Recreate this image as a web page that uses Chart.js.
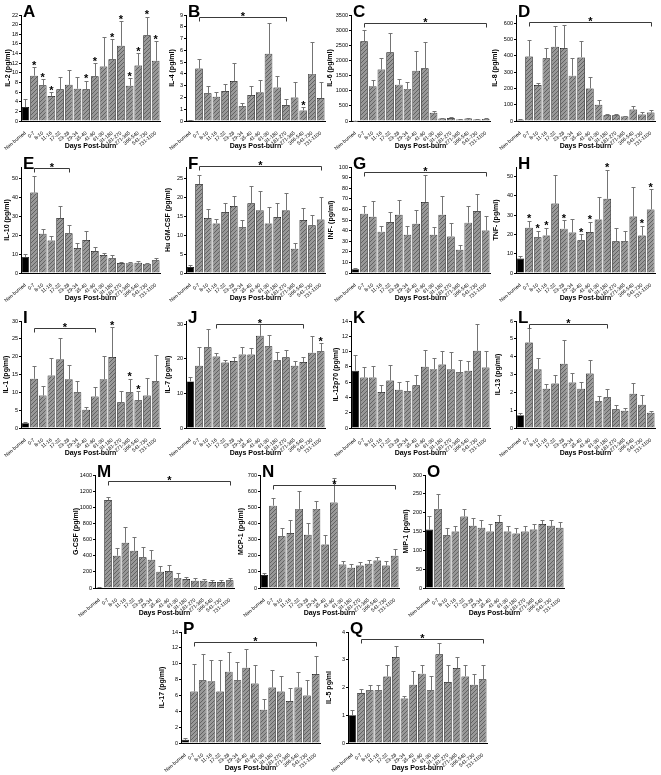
<!DOCTYPE html>
<html>
<head>
<meta charset="utf-8">
<script src="https://cdn.jsdelivr.net/npm/chart.js@4"></script>
<style>
html,body{margin:0;padding:0;background:#fff;}
#fig{position:relative;width:661px;height:775px;overflow:hidden;background:#fff;}
.pn{position:absolute;}
</style>
</head>
<body>
<div id="fig"></div>
<script>
'use strict';

/* ── categories (days post-burn) ── */
const categories=['Non-burned','0-7','8-10','11-16','17-22','23-28','29-34','35-40','41-60','61-90','91-180','181-270','271-365','366-540','541-730','731-1100'];

/* ── values: mean + top of error bar ── */
const il2Mean=[2.9,9.4,7.4,5.2,6.6,7.5,6.7,6.6,9.3,11.3,12.8,15.6,7.3,11.5,17.8,12.5];
const il2Up  =[4.5,11.2,8.7,6.0,9.1,10.6,9.2,8.4,12.0,17.4,17.0,20.7,8.9,14.1,21.6,16.6];
const il4Mean=[0.08,4.45,2.35,2.05,2.55,3.4,1.25,2.2,2.45,5.7,2.85,1.35,2.0,0.9,4.0,1.95];
const il4Up  =[0.12,5.25,2.95,2.5,3.1,4.9,1.55,2.95,3.45,8.3,3.85,1.9,3.3,1.15,6.7,3.35];
const il6Mean=[8,2630,1150,1700,2270,1200,1060,1660,1740,270,80,100,50,80,50,70];
const il6Up  =[12,3020,1360,2070,2920,1400,1300,2310,2610,330,95,125,60,95,62,90];
const il8Mean=[8,395,220,385,455,448,278,390,200,100,35,35,27,70,40,52];
const il8Up  =[12,495,235,450,580,590,385,490,270,130,40,45,30,92,55,70];
const il10Mean=[8.5,42.5,20.7,17.2,29,21,13.2,17.4,11.6,9.5,7.8,5.3,5.2,5.4,4.8,6.7];
const il10Up  =[10,51,23.5,19.3,35.5,25.5,15.6,22.4,13.6,10.6,9.5,5.7,5.8,6.3,5.2,7.8];
const gmcsfMean=[1.6,23.5,14.5,13.1,16.1,17.7,12.1,18.4,16.6,13.1,14.8,16.6,6.4,14.0,12.6,14.1];
const gmcsfUp  =[2.2,26,16.8,14.3,18.6,20.4,13.9,22.9,21.7,17.4,18.6,21.2,7.8,17.3,15.3,20.2];
const infMean=[3.5,56,53,39,48,55,36,46.5,67,36,55,34.5,22,47.5,58.5,40];
const infUp  =[5,63,68,44,58,69,44,59.5,92,43,73,47,26.5,63,75,54];
const tnfMean=[7.5,23.5,18.5,19.5,36,23,21,17,21.3,27.8,38.5,16.5,16.5,29.3,19.5,33];
const tnfUp  =[9,27,22,23.5,51,27.5,28,20,26.5,39.5,53.5,23.5,22,44.5,24.5,43.5];
const il1Mean=[1.3,13.8,9.1,14.7,19.3,13.7,10,5.1,8.8,13.7,19.9,7.2,10,7.8,9.1,13.1];
const il1Up  =[1.6,17.3,11.9,19.6,25.2,17.6,13.3,6,11.6,20.2,28.2,10.4,13.8,10.3,13.9,20.4];
const il7Mean=[13.5,18,23.4,20.7,19,19.4,21.3,21.3,26.7,23.7,19.6,20.5,18,19.1,21.8,22.2];
const il7Up  =[14.8,23.5,28.6,21.8,19.8,20.7,23.6,23.3,30,27,22,22.7,19.3,20.5,26.6,24.6];
const il12Mean=[7.5,6.6,6.6,4.7,6.2,5,4.8,5.6,8,7.7,8.3,7.7,7.3,7.5,10.1,7.9];
const il12Up  =[9.5,8,8.1,5.6,8.3,6,6.2,7,10.2,9.2,10.1,10,8.9,8.8,13.6,10.1];
const il13Mean=[0.72,4.8,3.3,2.2,2.5,3.6,2.55,2.2,3.05,1.5,1.72,1.05,0.97,1.92,1.3,0.85];
const il13Up  =[0.85,5.6,3.9,2.45,2.95,4.95,3.1,2.6,3.8,1.8,2.2,1.28,1.1,2.55,1.83,0.97];
const gcsfMean=[10,1090,400,560,460,380,350,200,210,125,110,90,90,75,75,95];
const gcsfUp  =[15,1130,500,750,630,510,470,270,285,185,140,120,115,95,95,125];
const mcp1Mean=[80,510,320,340,490,330,490,270,530,145,125,140,150,170,140,200];
const mcp1Up  =[95,560,370,420,600,400,540,330,680,170,150,160,175,195,170,240];
const mip1Mean=[155,210,140,150,190,165,160,150,175,150,145,150,155,170,165,160];
const mip1Up  =[190,250,160,165,210,185,180,170,195,165,160,165,170,180,180,175];
const il17Mean=[0.4,6.5,7.9,7.8,6.5,9,7.9,9.5,7.5,4.2,7,6.5,5.3,7,6,8.7];
const il17Up  =[0.6,10,11.2,10.5,10.5,11.5,10.2,11.8,9.8,5.5,9.2,8.5,7,9,8,11];
const il5Mean=[1,1.8,1.9,1.9,2.4,3.1,1.6,2.1,2.5,1.9,3.2,2.2,2.7,2.4,2.1,2.3];
const il5Up  =[1.2,1.95,2.1,2.1,2.8,3.5,1.7,2.6,2.8,2.4,3.6,2.8,3.1,2.8,2.5,2.8];

/* ── significance: single stars (bar index) and brackets [from,to,level] ── */
const il2Stars=[1,2,3,7,8,10,11,12,13,14,15];
const il4Stars=[13];
const tnfStars=[1,2,3,5,7,8,10,14,15];
const il1Stars=[10,12,13];
const il7Stars=[15];
const il4Bracket=[1,11,8.85];
const il6Bracket=[1,15,3250];
const il8Bracket=[1,15,605];
const il10Bracket=[1,5,55.3];
const gmcsfBracket=[1,15,28.3];
const infBracket=[1,15,95.5];
const il1Bracket=[1,8,28.1];
const il7Bracket=[3,13,30.2];
const il13Bracket=[1,10,5.85];
const gcsfBracket=[1,15,1320];
const mcp1Bracket=[1,15,640];
const il17Bracket=[1,15,12.8];
const il5Bracket=[1,15,3.75];

/* ── y axes: [max, step] ── */
const yAxes={A:[22,2],B:[9,1],C:[3500,500],D:[650,100],E:[56,10],F:[28,5],G:[100,10],H:[55,10],
  I:[30,5],J:[31,10],K:[14,2],L:[6,1],M:[1400,200],N:[700,100],O:[300,50],P:[14,1],Q:[4,1]};

/* ── panels ── */
const panels=[
  {k:'A',lab:'IL-2 (pg/ml)',mean:il2Mean,up:il2Up,stars:il2Stars},
  {k:'B',lab:'IL-4 (pg/ml)',mean:il4Mean,up:il4Up,stars:il4Stars,br:il4Bracket},
  {k:'C',lab:'IL-6 (pg/ml)',mean:il6Mean,up:il6Up,br:il6Bracket},
  {k:'D',lab:'IL-8 (pg/ml)',mean:il8Mean,up:il8Up,br:il8Bracket},
  {k:'E',lab:'IL-10 (pg/ml)',mean:il10Mean,up:il10Up,br:il10Bracket},
  {k:'F',lab:'Hu GM-CSF (pg/ml)',mean:gmcsfMean,up:gmcsfUp,br:gmcsfBracket},
  {k:'G',lab:'INF- (pg/ml)',mean:infMean,up:infUp,br:infBracket},
  {k:'H',lab:'TNF- (pg/ml)',mean:tnfMean,up:tnfUp,stars:tnfStars},
  {k:'I',lab:'IL-1 (pg/ml)',mean:il1Mean,up:il1Up,stars:il1Stars,br:il1Bracket},
  {k:'J',lab:'IL-7 (pg/ml)',mean:il7Mean,up:il7Up,stars:il7Stars,br:il7Bracket},
  {k:'K',lab:'IL-12p70 (pg/ml)',mean:il12Mean,up:il12Up},
  {k:'L',lab:'IL-13 (pg/ml)',mean:il13Mean,up:il13Up,br:il13Bracket},
  {k:'M',lab:'G-CSF (pg/ml)',mean:gcsfMean,up:gcsfUp,br:gcsfBracket},
  {k:'N',lab:'MCP-1 (pg/ml)',mean:mcp1Mean,up:mcp1Up,br:mcp1Bracket},
  {k:'O',lab:'MIP-1 (pg/ml)',mean:mip1Mean,up:mip1Up},
  {k:'P',lab:'IL-17 (pg/ml)',mean:il17Mean,up:il17Up,br:il17Bracket},
  {k:'Q',lab:'IL-5 pg/ml',mean:il5Mean,up:il5Up,br:il5Bracket}
];

/* ── layout: x offset, canvas top, plot height, y-title nudge ── */
const place={
  A:[0,0,106,9.8],  B:[165,0,106,9.3], C:[330,0,106,1.8], D:[495,0,106,1.8],
  E:[0,152,106,8.8],F:[165,152,106,4.8],G:[330,152,106,2.8],H:[495,152,106,2.8],
  I:[0,306,107,7.8],J:[165,306,107,4.8],K:[330,306,107,7.8],L:[495,306,107,4.8],
  M:[74,460,113,4],N:[239,460,113,4],O:[404,460,113,4],
  P:[160,617,111,4],Q:[327,617,111,4]
};

const FONT='"Liberation Sans", Arial, sans-serif';
Chart.defaults.font.family=FONT;
Chart.defaults.color='#000';

// grey diagonal hatch like the printed bars
function hatch(ctx){
  const pc=document.createElement('canvas');pc.width=4;pc.height=4;
  const g=pc.getContext('2d');
  g.fillStyle='#999999';g.fillRect(0,0,4,4);
  g.fillStyle='#626262';
  for(let i=0;i<4;i++)g.fillRect(i,3-i,1,1);
  return ctx.createPattern(pc,'repeat');
}

const fig=document.getElementById('fig');

panels.forEach(p=>{
  const [ox,top,ph,tpad]=place[p.k];
  const [ymax,ystep]=yAxes[p.k];
  const W=171,H=15+ph+32;
  const cv=document.createElement('canvas');
  cv.className='pn';
  cv.width=W;cv.height=H;
  cv.style.left=(ox-6)+'px';cv.style.top=top+'px';
  cv.style.width=W+'px';cv.style.height=H+'px';
  fig.appendChild(cv);
  const ctx=cv.getContext('2d');
  const pat=hatch(ctx);

  const marks={
    id:'marks'+p.k,
    afterDatasetsDraw(c){
      const g=c.ctx,ys=c.scales.y,bars=c.getDatasetMeta(0).data;
      g.save();
      g.strokeStyle='#747474';g.lineWidth=1;
      p.up.forEach((u,i)=>{
        const x=Math.round(bars[i].x)+0.5;
        const y1=Math.round(ys.getPixelForValue(u))+0.5;
        g.beginPath();
        g.moveTo(x,bars[i].y);g.lineTo(x,y1);
        g.moveTo(x-2,y1);g.lineTo(x+2,y1);
        g.stroke();
      });
      g.fillStyle='#000';g.textAlign='center';g.textBaseline='alphabetic';
      g.font='bold 11px '+FONT;
      (p.stars||[]).forEach(i=>{
        g.fillText('*',bars[i].x,ys.getPixelForValue(p.up[i])+1.5);
      });
      if(p.br){
        const [a,b,lv]=p.br;
        const y=Math.round(ys.getPixelForValue(lv))+0.5;
        const x1=Math.round(bars[a].x)+0.5,x2=Math.round(bars[b].x)+0.5;
        g.strokeStyle='#3a3a3a';
        g.beginPath();
        g.moveTo(x1,y+4);g.lineTo(x1,y);g.lineTo(x2,y);g.lineTo(x2,y+4);
        g.stroke();
        g.fillText('*',(x1+x2)/2,y+2.7);
      }
      g.textAlign='left';
      g.font='bold 17px '+FONT;
      g.fillText(p.k,c.chartArea.left+2,c.chartArea.top+2);
      g.restore();
    }
  };

  new Chart(cv,{
    type:'bar',
    data:{
      labels:categories,
      datasets:[{
        data:p.mean,
        backgroundColor:p.mean.map((v,i)=>i===0?'#000':pat),
        borderColor:'#000',
        borderWidth:0.7,
        barPercentage:0.88,
        categoryPercentage:1
      }]
    },
    options:{
      responsive:false,animation:false,devicePixelRatio:1,
      layout:{padding:{top:15,right:5,left:0,bottom:0}},
      plugins:{legend:{display:false},tooltip:{enabled:false}},
      scales:{
        x:{
          grid:{display:false},
          border:{color:'#000',width:1},
          ticks:{font:{size:5},color:'#000',minRotation:40,maxRotation:40,padding:1,autoSkip:false},
          title:{display:true,text:'Days Post-burn',font:{size:7,weight:'bold'},color:'#000',padding:{top:0,bottom:3}},
          afterFit(s){s.height=32;s.paddingLeft=0;s.paddingRight=0;}
        },
        y:{
          min:0,max:ymax,
          ticks:{stepSize:ystep,includeBounds:false,font:{size:5.5},color:'#000',padding:1,callback:v=>String(v)},
          grid:{drawOnChartArea:false,drawTicks:true,tickLength:2,color:'#000'},
          border:{color:'#000',width:1},
          title:{display:true,text:p.lab,font:{size:7,weight:'bold'},color:'#000',padding:{top:tpad,bottom:0}},
          afterFit(s){s.width=27;}
        }
      }
    },
    plugins:[marks]
  });
});
</script>
</body>
</html>
